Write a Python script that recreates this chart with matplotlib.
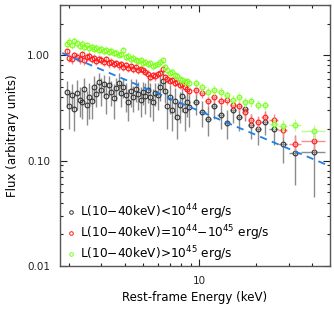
import matplotlib
matplotlib.use('Agg')
import matplotlib.pyplot as plt
from matplotlib.ticker import FixedLocator, LogLocator, NullFormatter, FormatStrFormatter

# energy grid of the finely binned part of the spectra (keV)
energy_fine = [1.95, 2.02, 2.08, 2.15, 2.22, 2.29, 2.36, 2.43, 2.50, 2.58,
               2.66, 2.74, 2.82, 2.91, 3.00, 3.09, 3.18, 3.28, 3.38, 3.48,
               3.59, 3.70, 3.81, 3.93, 4.05, 4.17, 4.30, 4.43, 4.57, 4.71,
               4.85, 5.00, 5.15, 5.31, 5.47, 5.64, 5.81, 5.99, 6.17, 6.36,
               6.55, 6.75, 6.96, 7.17, 7.39, 7.62, 7.85, 8.09, 8.34, 8.60, 8.86]

# coarse bins at high energy: centre and half width (keV)
energy_wide = [9.6, 10.4, 11.1, 12.0, 13.0, 14.0, 15.1, 16.3, 17.6, 19.0,
               20.6, 22.4, 25.0, 28.0, 32.4, 41.0]
halfwidth_wide = [0.4, 0.4, 0.4, 0.45, 0.5, 0.5, 0.55, 0.6, 0.65, 0.7,
                  0.8, 0.9, 1.3, 1.5, 2.4, 5.8]

# low luminosity
low_fine = [0.45, 0.33, 0.42, 0.31, 0.44, 0.38, 0.36, 0.48, 0.34, 0.40,
            0.37, 0.50, 0.43, 0.56, 0.47, 0.53, 0.41, 0.52, 0.45, 0.39,
            0.49, 0.55, 0.44, 0.50, 0.42, 0.36, 0.46, 0.40, 0.48, 0.43,
            0.38, 0.45, 0.41, 0.47, 0.40, 0.36, 0.44, 0.42, 0.50, 0.57,
            0.46, 0.33, 0.40, 0.30, 0.37, 0.26, 0.34, 0.41, 0.30, 0.36, 0.32]
low_fine_err = [0.12, 0.13, 0.11, 0.12, 0.14, 0.12, 0.11, 0.13, 0.12, 0.15,
                0.12, 0.13, 0.11, 0.12, 0.14, 0.12, 0.13, 0.11, 0.12, 0.14,
                0.12, 0.13, 0.12, 0.11, 0.13, 0.12, 0.14, 0.11, 0.12, 0.13,
                0.12, 0.11, 0.13, 0.12, 0.14, 0.12, 0.11, 0.12, 0.13, 0.12,
                0.11, 0.13, 0.12, 0.11, 0.12, 0.10, 0.11, 0.12, 0.11, 0.10, 0.11]
low_wide = [0.36, 0.29, 0.25, 0.33, 0.27, 0.23, 0.30, 0.26, 0.31, 0.22,
            0.20, 0.235, 0.20, 0.145, 0.117, 0.12]
low_wide_err = [0.09, 0.08, 0.08, 0.08, 0.07, 0.07, 0.07, 0.07, 0.07, 0.06,
                0.06, 0.06, 0.06, 0.05, 0.058, 0.075]

# medium luminosity
mid_fine = [1.10, 0.95, 0.92, 1.00, 0.97, 0.93, 1.02, 0.90, 0.96, 0.98,
            0.92, 0.95, 0.88, 0.93, 0.90, 0.86, 0.92, 0.84, 0.87, 0.82,
            0.85, 0.80, 0.83, 0.78, 0.81, 0.76, 0.79, 0.74, 0.77, 0.72,
            0.74, 0.72, 0.70, 0.66, 0.62, 0.65, 0.63, 0.66, 0.68, 0.74,
            0.62, 0.60, 0.57, 0.58, 0.55, 0.56, 0.52, 0.53, 0.50, 0.48, 0.46]
mid_fine_err = [0.10, 0.09, 0.10, 0.08, 0.09, 0.10, 0.08, 0.09, 0.08, 0.09,
                0.08, 0.07, 0.08, 0.07, 0.08, 0.07, 0.07, 0.08, 0.07, 0.07,
                0.06, 0.07, 0.06, 0.07, 0.06, 0.06, 0.07, 0.06, 0.06, 0.06,
                0.05, 0.06, 0.05, 0.06, 0.05, 0.05, 0.06, 0.05, 0.05, 0.06,
                0.05, 0.05, 0.05, 0.04, 0.05, 0.04, 0.04, 0.05, 0.04, 0.04, 0.04]
mid_wide = [0.47, 0.44, 0.37, 0.40, 0.37, 0.38, 0.34, 0.33, 0.29, 0.245,
            0.235, 0.26, 0.245, 0.197, 0.145, 0.152]
mid_wide_err = [0.05, 0.05, 0.04, 0.04, 0.04, 0.04, 0.04, 0.035, 0.035, 0.03,
                0.03, 0.03, 0.03, 0.03, 0.025, 0.025]

# high luminosity
high_fine = [1.28, 1.35, 1.25, 1.38, 1.30, 1.22, 1.27, 1.20, 1.24, 1.17,
             1.21, 1.14, 1.18, 1.12, 1.15, 1.09, 1.13, 1.07, 1.10, 1.04,
             1.06, 1.01, 1.03, 1.12, 0.96, 0.99, 0.92, 0.95, 0.90, 0.88,
             0.91, 0.85, 0.87, 0.82, 0.84, 0.79, 0.81, 0.83, 0.87, 0.90,
             0.78, 0.72, 0.68, 0.70, 0.65, 0.63, 0.60, 0.58, 0.56, 0.57, 0.54]
high_fine_err = [0.12, 0.13, 0.11, 0.12, 0.10, 0.11, 0.12, 0.10, 0.11, 0.10,
                 0.09, 0.10, 0.09, 0.10, 0.09, 0.08, 0.09, 0.08, 0.09, 0.08,
                 0.08, 0.07, 0.08, 0.07, 0.07, 0.08, 0.07, 0.07, 0.06, 0.07,
                 0.06, 0.07, 0.06, 0.06, 0.07, 0.06, 0.06, 0.05, 0.06, 0.06,
                 0.05, 0.06, 0.05, 0.05, 0.05, 0.05, 0.05, 0.04, 0.05, 0.04, 0.05]
high_wide = [0.55, 0.50, 0.45, 0.47, 0.45, 0.42, 0.38, 0.40, 0.36, 0.365,
             0.34, 0.335, 0.225, 0.215, 0.22, 0.19]
high_wide_err = [0.05, 0.05, 0.05, 0.05, 0.05, 0.04, 0.04, 0.04, 0.04, 0.04,
                 0.035, 0.035, 0.03, 0.03, 0.03, 0.03]

# power-law model drawn as dashed line (end points)
model_energy = [1.85, 47.5]
model_flux = [1.05, 0.092]

labels = ['L(10\u221240keV)<10$^{44}$ erg/s',
          'L(10\u221240keV)=10$^{44}$\u221210$^{45}$ erg/s',
          'L(10\u221240keV)>10$^{45}$ erg/s']

series = [
    (low_fine, low_fine_err, low_wide, low_wide_err, '#333333', '#8c8c8c'),
    (mid_fine, mid_fine_err, mid_wide, mid_wide_err, '#ff1a1a', '#ff8c8c'),
    (high_fine, high_fine_err, high_wide, high_wide_err, '#7cff1a', '#b8ff8c'),
]

fig = plt.figure(figsize=(3.34, 3.09), dpi=100)
ax = fig.add_axes([60 / 334, 43 / 309, 270 / 334, 261 / 309])

handles = []
for k, (f_fine, e_fine, f_wide, e_wide, col, ecol) in enumerate(series):
    z = 2 + k
    ax.errorbar(energy_fine, f_fine, yerr=e_fine, fmt='none', ecolor=ecol,
                elinewidth=1.0, capsize=0, zorder=z)
    ax.errorbar(energy_wide, f_wide, yerr=e_wide, xerr=halfwidth_wide, fmt='none',
                ecolor=ecol, elinewidth=1.0, capsize=0, zorder=z)
    ax.plot(energy_fine + energy_wide, f_fine + f_wide, 'o', ls='none',
            ms=3.4, mfc='none', mec=col, mew=0.8, zorder=z + 0.5)
    h, = ax.plot([], [], 'o', ls='none', ms=2.6, mfc='none', mec=col, mew=0.7)
    handles.append(h)

ax.plot(model_energy, model_flux, color='#1e7fe8', lw=1.3, ls=(0, (4, 3)), zorder=6)

ax.set_xscale('log')
ax.set_yscale('log')
ax.set_xlim(1.8, 50)
ax.set_ylim(0.01, 3.0)

ax.xaxis.set_major_locator(FixedLocator([10]))
ax.xaxis.set_minor_locator(LogLocator(base=10, subs=range(2, 10)))
ax.xaxis.set_major_formatter(FormatStrFormatter('%d'))
ax.xaxis.set_minor_formatter(NullFormatter())
ax.yaxis.set_major_locator(FixedLocator([0.01, 0.1, 1.0]))
ax.yaxis.set_minor_locator(LogLocator(base=10, subs=range(2, 10)))
ax.yaxis.set_major_formatter(FormatStrFormatter('%.2f'))
ax.yaxis.set_minor_formatter(NullFormatter())

ax.tick_params(which='both', direction='in', top=True, right=True,
               labelsize=7.5, colors='#222222')
ax.tick_params(which='major', length=5, width=0.8, pad=7)
ax.tick_params(which='minor', length=2.5, width=0.8)
for s in ax.spines.values():
    s.set_linewidth(1.0)
    s.set_color('#555555')

ax.set_xlabel('Rest-frame Energy (keV)', fontsize=8.5, labelpad=4)
ax.set_ylabel('Flux (arbitrary units)', fontsize=8.5, labelpad=6)

ax.legend(handles, labels, loc='lower left', bbox_to_anchor=(0.01, -0.01),
          frameon=False, fontsize=8.7, handlelength=0.5, handletextpad=0.5,
          labelspacing=0.1, borderaxespad=0.0)

fig.savefig('out.png', dpi=100)
